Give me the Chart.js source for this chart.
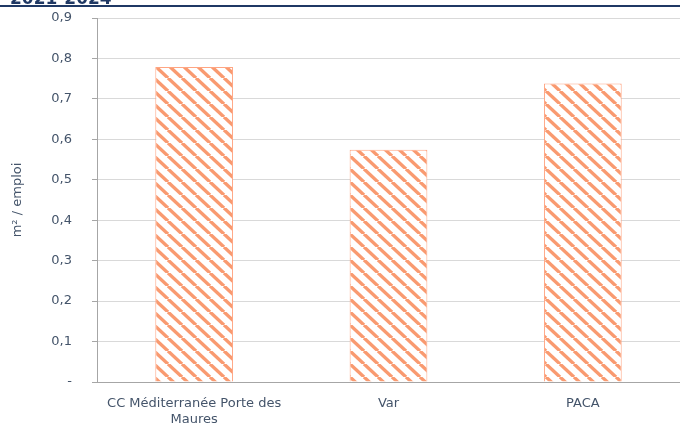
<!DOCTYPE html>
<html>
<head>
<meta charset="utf-8">
<script src="https://cdn.jsdelivr.net/npm/chart.js@4.4.1/dist/chart.umd.min.js"></script>
<style>
  html, body { margin: 0; padding: 0; background: #fff; }
  #wrap { width: 680px; height: 426px; position: relative; }
</style>
</head>
<body>
<div id="wrap"><canvas id="myChart"></canvas></div>
<script>
const categories = [["CC Méditerranée Porte des", "Maures"], "Var", "PACA"];
const values = [0.779, 0.574, 0.738];
const yTitle = "m² / emploi";
const headerText = "2021-2024";

const textColor = "#44546a";
const navy = "#1f3864";

// diagonal hatch pattern for the bars
function makeHatch() {
    const w = 14, h = 13;
    const c = document.createElement("canvas");
    c.width = w;
    c.height = h;
    const g = c.getContext("2d");
    g.fillStyle = "#ffffff";
    g.fillRect(0, 0, w, h);
    g.strokeStyle = "#f99a70";
    g.lineWidth = 3.4;
    [-w, 0, w].forEach(x0 => {
        g.beginPath();
        g.moveTo(x0, 0);
        g.lineTo(x0 + w, h);
        g.stroke();
    });
    return g.createPattern(c, "repeat");
}

const header = {
    id: "header",
    afterDraw(chart) {
        const g = chart.ctx;
        g.save();
        g.fillStyle = navy;
        g.font = "bold 17px 'DejaVu Sans'";
        g.textBaseline = "alphabetic";
        g.fillText(headerText, 10, 4);
        g.fillRect(0, 5, chart.width, 2);
        g.restore();
    }
};

const ctx = document.getElementById("myChart");

new Chart(ctx, {
type: "bar",
data: {
    labels: categories,
    datasets: [{
        data: values,
        backgroundColor: makeHatch(),
        borderColor: "#ffa582",
        borderWidth: 1,
        barPercentage: 0.4,
        categoryPercentage: 1,
    }]
},
options: {
    responsive: true,
    maintainAspectRatio: false,
    animation: false,
    layout: {
        padding: { top: 18, right: 0, left: 0, bottom: 0 }
    },
    plugins: {
        legend: { display: false },
        tooltip: { enabled: false },
    },
    scales: {
        x: {
            grid: { display: false },
            border: { color: "#a6a6a6", width: 1 },
            ticks: {
                color: textColor,
                font: { family: "'DejaVu Sans'", size: 13 },
                maxRotation: 0,
                padding: 6,
            },
            afterFit(scale) { scale.height = 44; }
        },
        y: {
            min: 0,
            max: 0.9,
            grid: {
                color: "#d9d9d9",
                tickColor: "#a6a6a6",
                tickLength: 5,
            },
            border: { color: "#a6a6a6", width: 1 },
            ticks: {
                stepSize: 0.1,
                color: textColor,
                font: { family: "'DejaVu Sans'", size: 13 },
                padding: 20,
                callback: v => v === 0 ? "-" : v.toFixed(1).replace(".", ",")
            },
            title: {
                display: true,
                text: yTitle,
                color: textColor,
                font: { family: "'DejaVu Sans'", size: 13 },
                padding: { top: 10, bottom: 0 },
            },
            afterFit(scale) {
                scale.width = 97;
                scale.paddingTop = 0;
                scale.paddingBottom = 0;
            }
        }
    }
},
plugins: [header]
});
</script>
</body>
</html>
